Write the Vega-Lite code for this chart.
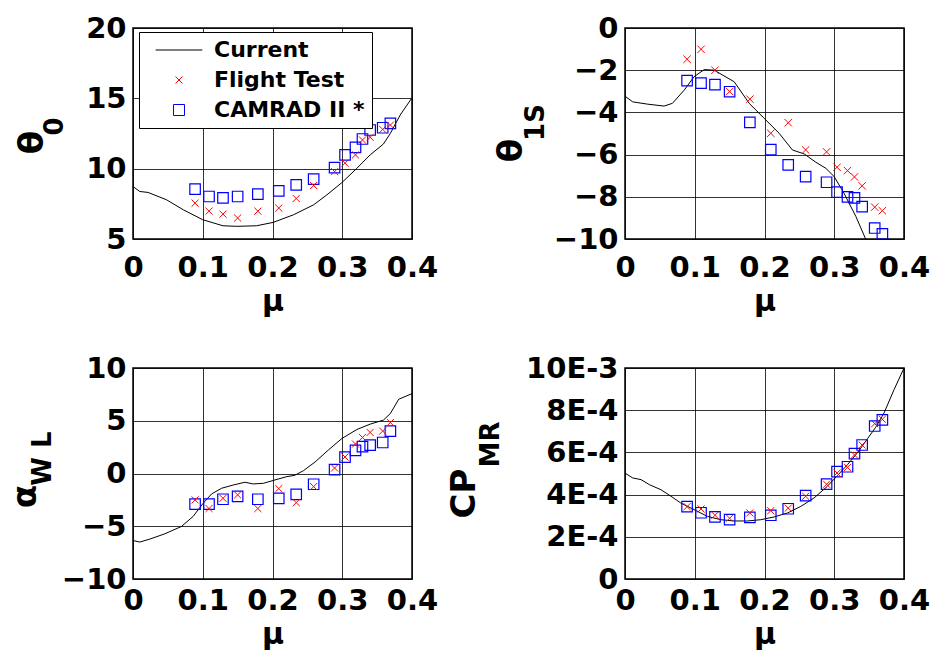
{
  "$schema": "https://vega.github.io/schema/vega-lite/v6.json",
  "padding": {"left": 7, "top": 13, "right": 5, "bottom": 5},
  "background": "white",
  "config": {
    "font": "DejaVu Sans",
    "view": {"stroke": "black", "strokeWidth": 1.5},
    "axis": {
      "labelFont": "DejaVu Sans", "labelFontWeight": "bold", "labelFontSize": 29, "labelColor": "black",
      "titleFont": "DejaVu Sans", "titleFontWeight": "bold", "titleColor": "black",
      "ticks": false, "domain": false, "gridColor": "black", "gridOpacity": 0.8, "gridWidth": 1,
      "labelFlush": false, "labelOverlap": false, "labelBound": false
    },
    "axisY": {"labelPadding": 7, "grid": true}
  },
  "resolve": {"scale": {"color": "independent", "shape": "independent"}},
  "datasets": {
    "curves": [
      {"p": "t0", "s": "Current", "mu": 0, "v": 8.73}, {"p": "t0", "s": "Current", "mu": 0.0096, "v": 8.38}, {"p": "t0", "s": "Current", "mu": 0.0216, "v": 8.31}, {"p": "t0", "s": "Current", "mu": 0.048, "v": 7.79}, {"p": "t0", "s": "Current", "mu": 0.072, "v": 7.08}, {"p": "t0", "s": "Current", "mu": 0.1, "v": 6.37}, {"p": "t0", "s": "Current", "mu": 0.129, "v": 5.94}, {"p": "t0", "s": "Current", "mu": 0.1485, "v": 5.9}, {"p": "t0", "s": "Current", "mu": 0.177, "v": 5.94}, {"p": "t0", "s": "Current", "mu": 0.201, "v": 6.18}, {"p": "t0", "s": "Current", "mu": 0.23, "v": 6.72}, {"p": "t0", "s": "Current", "mu": 0.259, "v": 7.43}, {"p": "t0", "s": "Current", "mu": 0.278, "v": 8.14}, {"p": "t0", "s": "Current", "mu": 0.2995, "v": 9.01}, {"p": "t0", "s": "Current", "mu": 0.321, "v": 10.03}, {"p": "t0", "s": "Current", "mu": 0.34, "v": 10.98}, {"p": "t0", "s": "Current", "mu": 0.359, "v": 11.75}, {"p": "t0", "s": "Current", "mu": 0.369, "v": 12.51}, {"p": "t0", "s": "Current", "mu": 0.383, "v": 13.81}, {"p": "t0", "s": "Current", "mu": 0.4, "v": 15.04},
      {"p": "t1s", "s": "Current", "mu": 0, "v": -3.23}, {"p": "t1s", "s": "Current", "mu": 0.011, "v": -3.5}, {"p": "t1s", "s": "Current", "mu": 0.0325, "v": -3.61}, {"p": "t1s", "s": "Current", "mu": 0.056, "v": -3.7}, {"p": "t1s", "s": "Current", "mu": 0.068, "v": -3.57}, {"p": "t1s", "s": "Current", "mu": 0.085, "v": -2.94}, {"p": "t1s", "s": "Current", "mu": 0.099, "v": -2.31}, {"p": "t1s", "s": "Current", "mu": 0.1136, "v": -1.97}, {"p": "t1s", "s": "Current", "mu": 0.128, "v": -2.0}, {"p": "t1s", "s": "Current", "mu": 0.1566, "v": -2.55}, {"p": "t1s", "s": "Current", "mu": 0.178, "v": -3.57}, {"p": "t1s", "s": "Current", "mu": 0.1995, "v": -4.28}, {"p": "t1s", "s": "Current", "mu": 0.221, "v": -4.99}, {"p": "t1s", "s": "Current", "mu": 0.24, "v": -5.78}, {"p": "t1s", "s": "Current", "mu": 0.257, "v": -5.97}, {"p": "t1s", "s": "Current", "mu": 0.2735, "v": -6.36}, {"p": "t1s", "s": "Current", "mu": 0.288, "v": -6.65}, {"p": "t1s", "s": "Current", "mu": 0.2998, "v": -7.04}, {"p": "t1s", "s": "Current", "mu": 0.314, "v": -7.83}, {"p": "t1s", "s": "Current", "mu": 0.331, "v": -8.93}, {"p": "t1s", "s": "Current", "mu": 0.345, "v": -10.0},
      {"p": "awl", "s": "Current", "mu": 0, "v": -6.35}, {"p": "awl", "s": "Current", "mu": 0.0096, "v": -6.5}, {"p": "awl", "s": "Current", "mu": 0.024, "v": -6.22}, {"p": "awl", "s": "Current", "mu": 0.0455, "v": -5.72}, {"p": "awl", "s": "Current", "mu": 0.0695, "v": -5.02}, {"p": "awl", "s": "Current", "mu": 0.086, "v": -4.08}, {"p": "awl", "s": "Current", "mu": 0.1006, "v": -2.82}, {"p": "awl", "s": "Current", "mu": 0.1126, "v": -1.94}, {"p": "awl", "s": "Current", "mu": 0.127, "v": -1.4}, {"p": "awl", "s": "Current", "mu": 0.1437, "v": -1.09}, {"p": "awl", "s": "Current", "mu": 0.1605, "v": -0.83}, {"p": "awl", "s": "Current", "mu": 0.1725, "v": -0.99}, {"p": "awl", "s": "Current", "mu": 0.187, "v": -0.93}, {"p": "awl", "s": "Current", "mu": 0.2036, "v": -0.61}, {"p": "awl", "s": "Current", "mu": 0.2204, "v": -0.3}, {"p": "awl", "s": "Current", "mu": 0.232, "v": -0.17}, {"p": "awl", "s": "Current", "mu": 0.2444, "v": 0.27}, {"p": "awl", "s": "Current", "mu": 0.261, "v": 1.09}, {"p": "awl", "s": "Current", "mu": 0.28, "v": 2.22}, {"p": "awl", "s": "Current", "mu": 0.2995, "v": 3.32}, {"p": "awl", "s": "Current", "mu": 0.321, "v": 4.17}, {"p": "awl", "s": "Current", "mu": 0.34, "v": 4.68}, {"p": "awl", "s": "Current", "mu": 0.359, "v": 5.06}, {"p": "awl", "s": "Current", "mu": 0.369, "v": 5.69}, {"p": "awl", "s": "Current", "mu": 0.381, "v": 7.04}, {"p": "awl", "s": "Current", "mu": 0.4, "v": 7.57},
      {"p": "cp", "s": "Current", "mu": 0, "v": 5.02e-4}, {"p": "cp", "s": "Current", "mu": 0.011, "v": 4.79e-4}, {"p": "cp", "s": "Current", "mu": 0.023, "v": 4.71e-4}, {"p": "cp", "s": "Current", "mu": 0.035, "v": 4.47e-4}, {"p": "cp", "s": "Current", "mu": 0.0516, "v": 4.23e-4}, {"p": "cp", "s": "Current", "mu": 0.066, "v": 3.92e-4}, {"p": "cp", "s": "Current", "mu": 0.08, "v": 3.6e-4}, {"p": "cp", "s": "Current", "mu": 0.099, "v": 3.29e-4}, {"p": "cp", "s": "Current", "mu": 0.118, "v": 2.97e-4}, {"p": "cp", "s": "Current", "mu": 0.1375, "v": 2.81e-4}, {"p": "cp", "s": "Current", "mu": 0.1566, "v": 2.75e-4}, {"p": "cp", "s": "Current", "mu": 0.1757, "v": 2.75e-4}, {"p": "cp", "s": "Current", "mu": 0.1947, "v": 2.81e-4}, {"p": "cp", "s": "Current", "mu": 0.2138, "v": 2.94e-4}, {"p": "cp", "s": "Current", "mu": 0.233, "v": 3.13e-4}, {"p": "cp", "s": "Current", "mu": 0.252, "v": 3.44e-4}, {"p": "cp", "s": "Current", "mu": 0.271, "v": 3.84e-4}, {"p": "cp", "s": "Current", "mu": 0.29, "v": 4.39e-4}, {"p": "cp", "s": "Current", "mu": 0.3045, "v": 4.9e-4}, {"p": "cp", "s": "Current", "mu": 0.319, "v": 5.42e-4}, {"p": "cp", "s": "Current", "mu": 0.333, "v": 5.97e-4}, {"p": "cp", "s": "Current", "mu": 0.3475, "v": 6.64e-4}, {"p": "cp", "s": "Current", "mu": 0.3594, "v": 7.19e-4}, {"p": "cp", "s": "Current", "mu": 0.3714, "v": 7.87e-4}, {"p": "cp", "s": "Current", "mu": 0.3857, "v": 8.97e-4}, {"p": "cp", "s": "Current", "mu": 0.4, "v": 1.0e-3}
    ],
    "points": [
      {"p": "t0", "s": "CAMRAD II *", "mu": 0.089, "v": 8.54}, {"p": "t0", "s": "CAMRAD II *", "mu": 0.109, "v": 8.02}, {"p": "t0", "s": "CAMRAD II *", "mu": 0.129, "v": 7.93}, {"p": "t0", "s": "CAMRAD II *", "mu": 0.15, "v": 8.02}, {"p": "t0", "s": "CAMRAD II *", "mu": 0.179, "v": 8.19}, {"p": "t0", "s": "CAMRAD II *", "mu": 0.209, "v": 8.42}, {"p": "t0", "s": "CAMRAD II *", "mu": 0.234, "v": 8.85}, {"p": "t0", "s": "CAMRAD II *", "mu": 0.259, "v": 9.25}, {"p": "t0", "s": "CAMRAD II *", "mu": 0.289, "v": 10.08}, {"p": "t0", "s": "CAMRAD II *", "mu": 0.304, "v": 10.98}, {"p": "t0", "s": "CAMRAD II *", "mu": 0.319, "v": 11.52}, {"p": "t0", "s": "CAMRAD II *", "mu": 0.329, "v": 12.11}, {"p": "t0", "s": "CAMRAD II *", "mu": 0.34, "v": 12.75}, {"p": "t0", "s": "CAMRAD II *", "mu": 0.358, "v": 12.91}, {"p": "t0", "s": "CAMRAD II *", "mu": 0.369, "v": 13.22},
      {"p": "t0", "s": "Flight Test", "mu": 0.089, "v": 7.55}, {"p": "t0", "s": "Flight Test", "mu": 0.109, "v": 6.98}, {"p": "t0", "s": "Flight Test", "mu": 0.129, "v": 6.77}, {"p": "t0", "s": "Flight Test", "mu": 0.15, "v": 6.49}, {"p": "t0", "s": "Flight Test", "mu": 0.179, "v": 6.98}, {"p": "t0", "s": "Flight Test", "mu": 0.209, "v": 7.2}, {"p": "t0", "s": "Flight Test", "mu": 0.234, "v": 7.88}, {"p": "t0", "s": "Flight Test", "mu": 0.259, "v": 8.8}, {"p": "t0", "s": "Flight Test", "mu": 0.289, "v": 9.79}, {"p": "t0", "s": "Flight Test", "mu": 0.304, "v": 10.39}, {"p": "t0", "s": "Flight Test", "mu": 0.319, "v": 10.98}, {"p": "t0", "s": "Flight Test", "mu": 0.329, "v": 12.04}, {"p": "t0", "s": "Flight Test", "mu": 0.34, "v": 12.23}, {"p": "t0", "s": "Flight Test", "mu": 0.358, "v": 12.79}, {"p": "t0", "s": "Flight Test", "mu": 0.369, "v": 13.1},
      {"p": "t1s", "s": "CAMRAD II *", "mu": 0.089, "v": -2.49}, {"p": "t1s", "s": "CAMRAD II *", "mu": 0.109, "v": -2.61}, {"p": "t1s", "s": "CAMRAD II *", "mu": 0.129, "v": -2.68}, {"p": "t1s", "s": "CAMRAD II *", "mu": 0.15, "v": -3.02}, {"p": "t1s", "s": "CAMRAD II *", "mu": 0.179, "v": -4.47}, {"p": "t1s", "s": "CAMRAD II *", "mu": 0.209, "v": -5.76}, {"p": "t1s", "s": "CAMRAD II *", "mu": 0.234, "v": -6.49}, {"p": "t1s", "s": "CAMRAD II *", "mu": 0.259, "v": -7.04}, {"p": "t1s", "s": "CAMRAD II *", "mu": 0.289, "v": -7.31}, {"p": "t1s", "s": "CAMRAD II *", "mu": 0.304, "v": -7.78}, {"p": "t1s", "s": "CAMRAD II *", "mu": 0.319, "v": -8.0}, {"p": "t1s", "s": "CAMRAD II *", "mu": 0.329, "v": -8.05}, {"p": "t1s", "s": "CAMRAD II *", "mu": 0.34, "v": -8.47}, {"p": "t1s", "s": "CAMRAD II *", "mu": 0.358, "v": -9.48}, {"p": "t1s", "s": "CAMRAD II *", "mu": 0.369, "v": -9.76},
      {"p": "t1s", "s": "Flight Test", "mu": 0.089, "v": -1.48}, {"p": "t1s", "s": "Flight Test", "mu": 0.109, "v": -1.01}, {"p": "t1s", "s": "Flight Test", "mu": 0.129, "v": -2.0}, {"p": "t1s", "s": "Flight Test", "mu": 0.15, "v": -3.01}, {"p": "t1s", "s": "Flight Test", "mu": 0.179, "v": -3.37}, {"p": "t1s", "s": "Flight Test", "mu": 0.209, "v": -4.99}, {"p": "t1s", "s": "Flight Test", "mu": 0.234, "v": -4.49}, {"p": "t1s", "s": "Flight Test", "mu": 0.259, "v": -5.78}, {"p": "t1s", "s": "Flight Test", "mu": 0.289, "v": -5.87}, {"p": "t1s", "s": "Flight Test", "mu": 0.304, "v": -6.6}, {"p": "t1s", "s": "Flight Test", "mu": 0.319, "v": -6.76}, {"p": "t1s", "s": "Flight Test", "mu": 0.329, "v": -7.06}, {"p": "t1s", "s": "Flight Test", "mu": 0.34, "v": -7.48}, {"p": "t1s", "s": "Flight Test", "mu": 0.358, "v": -8.49}, {"p": "t1s", "s": "Flight Test", "mu": 0.369, "v": -8.66},
      {"p": "awl", "s": "CAMRAD II *", "mu": 0.089, "v": -2.91}, {"p": "awl", "s": "CAMRAD II *", "mu": 0.109, "v": -2.91}, {"p": "awl", "s": "CAMRAD II *", "mu": 0.129, "v": -2.44}, {"p": "awl", "s": "CAMRAD II *", "mu": 0.15, "v": -2.16}, {"p": "awl", "s": "CAMRAD II *", "mu": 0.179, "v": -2.44}, {"p": "awl", "s": "CAMRAD II *", "mu": 0.209, "v": -2.35}, {"p": "awl", "s": "CAMRAD II *", "mu": 0.234, "v": -1.97}, {"p": "awl", "s": "CAMRAD II *", "mu": 0.259, "v": -1.02}, {"p": "awl", "s": "CAMRAD II *", "mu": 0.289, "v": 0.36}, {"p": "awl", "s": "CAMRAD II *", "mu": 0.304, "v": 1.56}, {"p": "awl", "s": "CAMRAD II *", "mu": 0.319, "v": 2.19}, {"p": "awl", "s": "CAMRAD II *", "mu": 0.329, "v": 2.54}, {"p": "awl", "s": "CAMRAD II *", "mu": 0.34, "v": 2.69}, {"p": "awl", "s": "CAMRAD II *", "mu": 0.358, "v": 2.94}, {"p": "awl", "s": "CAMRAD II *", "mu": 0.369, "v": 4.02},
      {"p": "awl", "s": "Flight Test", "mu": 0.089, "v": -2.5}, {"p": "awl", "s": "Flight Test", "mu": 0.109, "v": -3.32}, {"p": "awl", "s": "Flight Test", "mu": 0.129, "v": -2.35}, {"p": "awl", "s": "Flight Test", "mu": 0.15, "v": -2.03}, {"p": "awl", "s": "Flight Test", "mu": 0.179, "v": -3.32}, {"p": "awl", "s": "Flight Test", "mu": 0.209, "v": -1.43}, {"p": "awl", "s": "Flight Test", "mu": 0.234, "v": -2.76}, {"p": "awl", "s": "Flight Test", "mu": 0.259, "v": -1.24}, {"p": "awl", "s": "Flight Test", "mu": 0.289, "v": 0.52}, {"p": "awl", "s": "Flight Test", "mu": 0.304, "v": 1.56}, {"p": "awl", "s": "Flight Test", "mu": 0.319, "v": 2.79}, {"p": "awl", "s": "Flight Test", "mu": 0.329, "v": 3.42}, {"p": "awl", "s": "Flight Test", "mu": 0.34, "v": 3.89}, {"p": "awl", "s": "Flight Test", "mu": 0.358, "v": 4.02}, {"p": "awl", "s": "Flight Test", "mu": 0.369, "v": 4.83},
      {"p": "cp", "s": "CAMRAD II *", "mu": 0.089, "v": 3.43e-4}, {"p": "cp", "s": "CAMRAD II *", "mu": 0.109, "v": 3.14e-4}, {"p": "cp", "s": "CAMRAD II *", "mu": 0.129, "v": 2.94e-4}, {"p": "cp", "s": "CAMRAD II *", "mu": 0.15, "v": 2.81e-4}, {"p": "cp", "s": "CAMRAD II *", "mu": 0.179, "v": 2.92e-4}, {"p": "cp", "s": "CAMRAD II *", "mu": 0.209, "v": 3.02e-4}, {"p": "cp", "s": "CAMRAD II *", "mu": 0.234, "v": 3.33e-4}, {"p": "cp", "s": "CAMRAD II *", "mu": 0.259, "v": 3.95e-4}, {"p": "cp", "s": "CAMRAD II *", "mu": 0.289, "v": 4.5e-4}, {"p": "cp", "s": "CAMRAD II *", "mu": 0.304, "v": 5.09e-4}, {"p": "cp", "s": "CAMRAD II *", "mu": 0.319, "v": 5.32e-4}, {"p": "cp", "s": "CAMRAD II *", "mu": 0.329, "v": 5.94e-4}, {"p": "cp", "s": "CAMRAD II *", "mu": 0.34, "v": 6.35e-4}, {"p": "cp", "s": "CAMRAD II *", "mu": 0.358, "v": 7.25e-4}, {"p": "cp", "s": "CAMRAD II *", "mu": 0.369, "v": 7.54e-4},
      {"p": "cp", "s": "Flight Test", "mu": 0.089, "v": 3.43e-4}, {"p": "cp", "s": "Flight Test", "mu": 0.109, "v": 3.32e-4}, {"p": "cp", "s": "Flight Test", "mu": 0.129, "v": 3.02e-4}, {"p": "cp", "s": "Flight Test", "mu": 0.15, "v": 2.88e-4}, {"p": "cp", "s": "Flight Test", "mu": 0.179, "v": 3.13e-4}, {"p": "cp", "s": "Flight Test", "mu": 0.209, "v": 3.24e-4}, {"p": "cp", "s": "Flight Test", "mu": 0.234, "v": 3.36e-4}, {"p": "cp", "s": "Flight Test", "mu": 0.259, "v": 3.92e-4}, {"p": "cp", "s": "Flight Test", "mu": 0.289, "v": 4.49e-4}, {"p": "cp", "s": "Flight Test", "mu": 0.304, "v": 5.02e-4}, {"p": "cp", "s": "Flight Test", "mu": 0.319, "v": 5.29e-4}, {"p": "cp", "s": "Flight Test", "mu": 0.329, "v": 5.88e-4}, {"p": "cp", "s": "Flight Test", "mu": 0.34, "v": 6.35e-4}, {"p": "cp", "s": "Flight Test", "mu": 0.358, "v": 7.36e-4}, {"p": "cp", "s": "Flight Test", "mu": 0.369, "v": 7.57e-4}
    ]
  },
  "columns": 2,
  "spacing": {"row": 129, "column": 213},
  "bounds": "flush",
  "concat": [
    {
      "width": 279, "height": 211,
      "layer": [
        {"data": {"name": "curves"}, "transform": [{"filter": "datum.p === 't0'"}],
         "mark": {"type": "line", "strokeWidth": 1, "clip": true},
         "encoding": {
           "x": {"field": "mu", "type": "quantitative", "scale": {"domain": [0, 0.4], "nice": false, "zero": false},
                 "axis": {"values": [0, 0.1, 0.2, 0.3, 0.4], "format": ".1~f", "labelPadding": 14, "title": "μ", "titleFontSize": 30, "titlePadding": 4, "grid": true}},
           "y": {"field": "v", "type": "quantitative", "scale": {"domain": [5, 20], "nice": false, "zero": false},
                 "axis": {"values": [5, 10, 15, 20], "title": "θ", "titleFontSize": 34, "titleAngle": -90, "titleX": -91, "titleY": 114, "titleAlign": "center", "titleBaseline": "alphabetic"}},
           "color": {"field": "s", "type": "nominal", "scale": {"domain": ["Current", "Flight Test", "CAMRAD II *"], "range": ["black", "#ff0000", "#0000ff"]},
                     "legend": {"orient": "none", "legendX": 6, "legendY": 4, "title": null, "fillColor": "white", "strokeColor": "black", "padding": 7, "labelFont": "DejaVu Sans", "labelFontWeight": "bold", "labelFontSize": 22, "labelColor": "black", "labelLimit": 300, "symbolOffset": 22, "labelOffset": 24, "rowPadding": 8, "symbolSize": 100, "symbolStrokeWidth": 1,
                                "encode": {"symbols": {"update": {"size": {"signal": "datum.value === 'Current' ? 2180 : datum.value === 'Flight Test' ? 49 : 121"}, "fill": {"value": "transparent"}, "strokeWidth": {"value": 1}}}}}}
         }},
        {"data": {"name": "points"}, "transform": [{"filter": "datum.p === 't0' && datum.s === 'CAMRAD II *'"}],
         "mark": {"type": "point", "filled": false, "size": 110, "strokeWidth": 1.2, "opacity": 1, "clip": true},
         "encoding": {
           "x": {"field": "mu", "type": "quantitative"},
           "y": {"field": "v", "type": "quantitative",
                 "axis": {"orient": "right", "labels": false, "grid": false, "ticks": false, "domain": false, "title": "0", "titleFontSize": 26, "titleAngle": -90, "titleX": -350, "titleY": 98, "titleAlign": "center", "titleBaseline": "alphabetic"}},
           "color": {"field": "s", "type": "nominal", "scale": {"domain": ["Current", "Flight Test", "CAMRAD II *"], "range": ["black", "#ff0000", "#0000ff"]}},
           "shape": {"field": "s", "type": "nominal", "scale": {"domain": ["Current", "Flight Test", "CAMRAD II *"], "range": ["stroke", "M-1,-1L1,1M-1,1L1,-1", "square"]}}
         }},
        {"data": {"name": "points"}, "transform": [{"filter": "datum.p === 't0' && datum.s === 'Flight Test'"}],
         "mark": {"type": "point", "filled": false, "size": 50, "strokeWidth": 1, "opacity": 1, "clip": true},
         "encoding": {
           "x": {"field": "mu", "type": "quantitative"},
           "y": {"field": "v", "type": "quantitative", "axis": null},
           "color": {"field": "s", "type": "nominal", "scale": {"domain": ["Current", "Flight Test", "CAMRAD II *"], "range": ["black", "#ff0000", "#0000ff"]}},
           "shape": {"field": "s", "type": "nominal", "scale": {"domain": ["Current", "Flight Test", "CAMRAD II *"], "range": ["stroke", "M-1,-1L1,1M-1,1L1,-1", "square"]}}
         }}
      ],
      "resolve": {"axis": {"y": "independent"}}
    },
    {
      "width": 279, "height": 211,
      "layer": [
        {"data": {"name": "curves"}, "transform": [{"filter": "datum.p === 't1s'"}],
         "mark": {"type": "line", "strokeWidth": 1, "color": "black", "clip": true},
         "encoding": {
           "x": {"field": "mu", "type": "quantitative", "scale": {"domain": [0, 0.4], "nice": false, "zero": false},
                 "axis": {"values": [0, 0.1, 0.2, 0.3, 0.4], "format": ".1~f", "labelPadding": 14, "title": "μ", "titleFontSize": 30, "titlePadding": 4, "grid": true}},
           "y": {"field": "v", "type": "quantitative", "scale": {"domain": [-10, 0], "nice": false, "zero": false},
                 "axis": {"values": [-10, -8, -6, -4, -2, 0], "title": "θ", "titleFontSize": 34, "titleAngle": -90, "titleX": -104, "titleY": 122, "titleAlign": "center", "titleBaseline": "alphabetic"}}
         }},
        {"data": {"name": "points"}, "transform": [{"filter": "datum.p === 't1s' && datum.s === 'CAMRAD II *'"}],
         "mark": {"type": "point", "filled": false, "size": 110, "strokeWidth": 1.2, "opacity": 1, "shape": "square", "color": "#0000ff", "clip": true},
         "encoding": {
           "x": {"field": "mu", "type": "quantitative"},
           "y": {"field": "v", "type": "quantitative",
                 "axis": {"orient": "right", "labels": false, "grid": false, "ticks": false, "domain": false, "title": "1S", "titleFontSize": 26, "titleAngle": -90, "titleX": -361, "titleY": 94, "titleAlign": "center", "titleBaseline": "alphabetic"}}
         }},
        {"data": {"name": "points"}, "transform": [{"filter": "datum.p === 't1s' && datum.s === 'Flight Test'"}],
         "mark": {"type": "point", "filled": false, "size": 55, "strokeWidth": 1, "opacity": 1, "shape": "M-1,-1L1,1M-1,1L1,-1", "color": "#ff0000", "clip": true},
         "encoding": {
           "x": {"field": "mu", "type": "quantitative"},
           "y": {"field": "v", "type": "quantitative", "axis": null}
         }}
      ],
      "resolve": {"axis": {"y": "independent"}}
    },
    {
      "width": 279, "height": 211,
      "layer": [
        {"data": {"name": "curves"}, "transform": [{"filter": "datum.p === 'awl'"}],
         "mark": {"type": "line", "strokeWidth": 1, "color": "black", "clip": true},
         "encoding": {
           "x": {"field": "mu", "type": "quantitative", "scale": {"domain": [0, 0.4], "nice": false, "zero": false},
                 "axis": {"values": [0, 0.1, 0.2, 0.3, 0.4], "format": ".1~f", "labelPadding": 7, "title": "μ", "titleFontSize": 30, "titlePadding": 4, "grid": true}},
           "y": {"field": "v", "type": "quantitative", "scale": {"domain": [-10, 10], "nice": false, "zero": false},
                 "axis": {"values": [-10, -5, 0, 5, 10], "title": "α", "titleFontSize": 34, "titleAngle": -90, "titleX": -98, "titleY": 128, "titleAlign": "center", "titleBaseline": "alphabetic"}}
         }},
        {"data": {"name": "points"}, "transform": [{"filter": "datum.p === 'awl' && datum.s === 'CAMRAD II *'"}],
         "mark": {"type": "point", "filled": false, "size": 110, "strokeWidth": 1.2, "opacity": 1, "shape": "square", "color": "#0000ff", "clip": true},
         "encoding": {
           "x": {"field": "mu", "type": "quantitative"},
           "y": {"field": "v", "type": "quantitative",
                 "axis": {"orient": "right", "labels": false, "grid": false, "ticks": false, "domain": false, "title": "W L", "titleFontSize": 26, "titleAngle": -90, "titleX": -362, "titleY": 90, "titleAlign": "center", "titleBaseline": "alphabetic"}}
         }},
        {"data": {"name": "points"}, "transform": [{"filter": "datum.p === 'awl' && datum.s === 'Flight Test'"}],
         "mark": {"type": "point", "filled": false, "size": 50, "strokeWidth": 1, "opacity": 1, "shape": "M-1,-1L1,1M-1,1L1,-1", "color": "#ff0000", "clip": true},
         "encoding": {
           "x": {"field": "mu", "type": "quantitative"},
           "y": {"field": "v", "type": "quantitative", "axis": null}
         }}
      ],
      "resolve": {"axis": {"y": "independent"}}
    },
    {
      "width": 279, "height": 211,
      "layer": [
        {"data": {"name": "curves"}, "transform": [{"filter": "datum.p === 'cp'"}],
         "mark": {"type": "line", "strokeWidth": 1, "color": "black", "clip": true},
         "encoding": {
           "x": {"field": "mu", "type": "quantitative", "scale": {"domain": [0, 0.4], "nice": false, "zero": false},
                 "axis": {"values": [0, 0.1, 0.2, 0.3, 0.4], "format": ".1~f", "labelPadding": 7, "title": "μ", "titleFontSize": 30, "titlePadding": 4, "grid": true}},
           "y": {"field": "v", "type": "quantitative", "scale": {"domain": [0, 0.001], "nice": false, "zero": false},
                 "axis": {"values": [0, 0.0002, 0.0004, 0.0006, 0.0008, 0.001], "labelExpr": "datum.value == 0 ? '0' : datum.value > 0.00095 ? '10E-3' : format(datum.value * 10000, '.0f') + 'E-4'", "title": "CP", "titleFontSize": 34, "titleAngle": -90, "titleX": -151, "titleY": 125, "titleAlign": "center", "titleBaseline": "alphabetic"}}
         }},
        {"data": {"name": "points"}, "transform": [{"filter": "datum.p === 'cp' && datum.s === 'CAMRAD II *'"}],
         "mark": {"type": "point", "filled": false, "size": 110, "strokeWidth": 1.2, "opacity": 1, "shape": "square", "color": "#0000ff", "clip": true},
         "encoding": {
           "x": {"field": "mu", "type": "quantitative"},
           "y": {"field": "v", "type": "quantitative",
                 "axis": {"orient": "right", "labels": false, "grid": false, "ticks": false, "domain": false, "title": "MR", "titleFontSize": 26, "titleAngle": -90, "titleX": -406, "titleY": 76, "titleAlign": "center", "titleBaseline": "alphabetic"}}
         }},
        {"data": {"name": "points"}, "transform": [{"filter": "datum.p === 'cp' && datum.s === 'Flight Test'"}],
         "mark": {"type": "point", "filled": false, "size": 50, "strokeWidth": 1, "opacity": 1, "shape": "M-1,-1L1,1M-1,1L1,-1", "color": "#ff0000", "clip": true},
         "encoding": {
           "x": {"field": "mu", "type": "quantitative"},
           "y": {"field": "v", "type": "quantitative", "axis": null}
         }}
      ],
      "resolve": {"axis": {"y": "independent"}}
    }
  ]
}
